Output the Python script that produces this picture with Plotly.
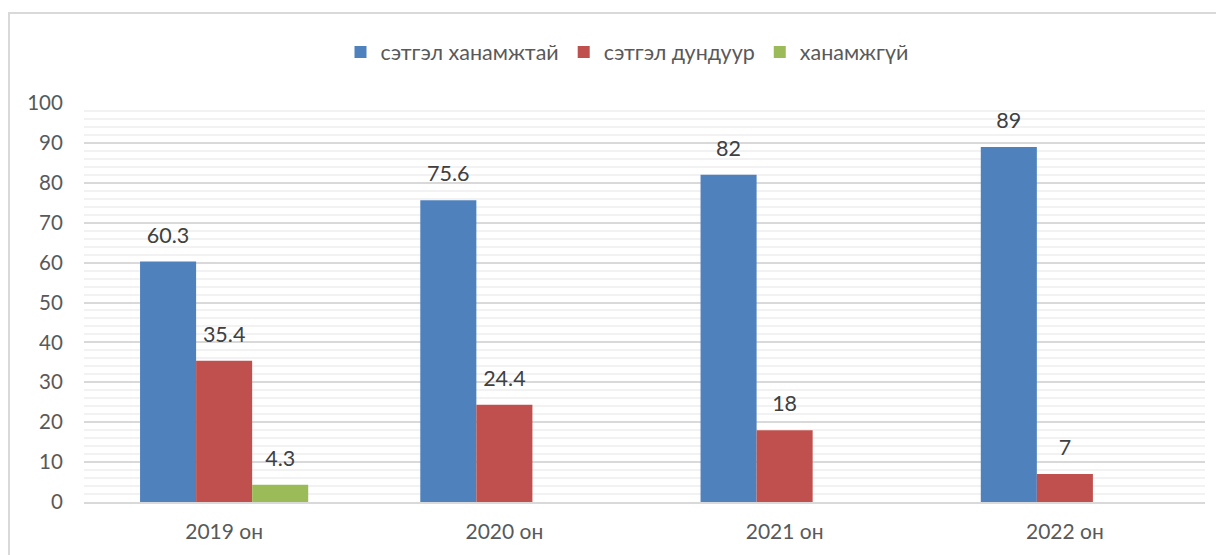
import plotly.graph_objects as go

categories = ["2019 он", "2020 он", "2021 он", "2022 он"]
series_names = ["сэтгэл ханамжтай", "сэтгэл дундуур", "ханамжгүй"]
satisfied = [60.3, 75.6, 82, 89]
neutral = [35.4, 24.4, 18, 7]
unsatisfied = [4.3, None, None, None]
colors = ["#4F81BD", "#C0504D", "#9BBB59"]

W, H = 1216, 547            # page body has 8px margin
L, R, T, B = 76, 19, 95, 53
PW, PH = W - L - R, H - T - B

fig = go.Figure()
for i, (name, vals, col) in enumerate(zip(series_names, [satisfied, neutral, unsatisfied], colors)):
    fig.add_trace(go.Bar(
        x=categories, y=vals, name=name, marker_color=col, marker_line_width=0,
        offsetgroup=str(i),
    ))
for i, vals in enumerate([satisfied, neutral, unsatisfied]):
    fig.add_trace(go.Scatter(
        x=categories, y=vals, mode="markers+text", offsetgroup=str(i),
        text=[("" if v is None else f"{v:g}") for v in vals],
        textposition="top center", marker=dict(size=20, opacity=0),
        textfont=dict(size=21.5, color="#404040", family="Lato"),
        showlegend=False, hoverinfo="skip", cliponaxis=False,
    ))

fig.update_layout(
    barmode="group", scattermode="group", bargap=0.4, bargroupgap=0,
    width=W, height=H,
    margin=dict(l=L, r=R, t=T, b=B, autoexpand=False),
    paper_bgcolor="white", plot_bgcolor="white",
    font=dict(family="Lato", color="#595959", size=21),
    legend=dict(orientation="h", x=(619 - L) / PW, xanchor="center",
                y=(T + PH - 44) / PH, yanchor="middle",
                font=dict(size=21.5, color="#595959"), itemwidth=30, traceorder="normal"),
    showlegend=True,
)
fig.update_yaxes(range=[0, 100], dtick=10, gridcolor="#D9D9D9", gridwidth=1.5,
                 minor=dict(dtick=2, showgrid=True, gridcolor="#F2F2F2", gridwidth=1.5),
                 zeroline=False, showline=False, ticks="outside", ticklen=16, tickcolor="rgba(0,0,0,0)",
                 tickfont=dict(size=20.5, color="#595959"), automargin=False)
fig.update_xaxes(showline=True, linecolor="#D9D9D9", linewidth=1.5, ticks="outside", ticklen=10,
                 tickcolor="rgba(0,0,0,0)", tickfont=dict(size=21, color="#595959"), automargin=False)

# outer chart frame
fig.add_shape(type="rect", xref="paper", yref="paper",
              x0=(1 - L) / PW, x1=(W + 20 - L) / PW,
              y0=-(B + 20) / PH, y1=(T + PH - 5) / PH,
              line=dict(color="#D9D9D9", width=2), fillcolor="rgba(0,0,0,0)", layer="below")

fig.write_html("out.html")
